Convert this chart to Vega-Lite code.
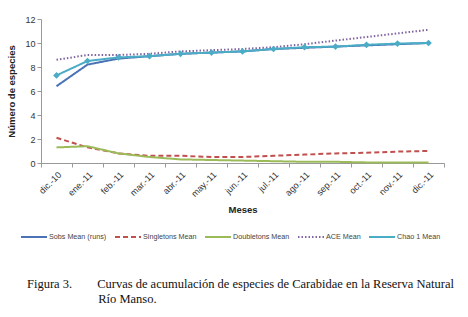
{
  "$schema": "https://vega.github.io/schema/vega-lite/v6.json",
  "width": 403,
  "height": 144,
  "autosize": {"type": "none"},
  "padding": {"left": 41, "top": 19, "right": 24, "bottom": 154},
  "background": "white",
  "config": {
    "view": {"stroke": null},
    "font": "Liberation Sans",
    "axis": {"labelFont": "Liberation Sans", "titleFont": "Liberation Sans", "labelColor": "#333", "titleColor": "#222", "domainColor": "#999", "tickColor": "#999", "grid": false},
    "legend": {"title": null, "orient": "none", "legendX": -21, "legendY": 204, "direction": "horizontal", "columns": 5, "symbolType": "stroke", "symbolSize": 676, "labelFontSize": 7.2, "labelColor": "#444", "columnPadding": 4, "labelOffset": 1, "labelFont": "Liberation Sans"}
  },
  "title": {
    "text": ["Figura 3.\u2003\u2003Curvas de acumulación de especies de Carabidae en la Reserva Natural", "\u200b\u2003\u2003\u2003\u2003\u2003\u2002\u2009Río Manso."],
    "orient": "bottom",
    "anchor": "start",
    "frame": "group",
    "font": "Liberation Serif",
    "fontSize": 12.5,
    "fontWeight": "normal",
    "color": "#111",
    "offset": 37,
    "dx": -14,
    "lineHeight": 15
  },
  "datasets": {
    "d": [
      {"mes": "dic.-10", "serie": "Sobs Mean (runs)", "valor": 6.4},
      {"mes": "ene.-11", "serie": "Sobs Mean (runs)", "valor": 8.2},
      {"mes": "feb.-11", "serie": "Sobs Mean (runs)", "valor": 8.7},
      {"mes": "mar.-11", "serie": "Sobs Mean (runs)", "valor": 8.9},
      {"mes": "abr.-11", "serie": "Sobs Mean (runs)", "valor": 9.1},
      {"mes": "may.-11", "serie": "Sobs Mean (runs)", "valor": 9.2},
      {"mes": "jun.-11", "serie": "Sobs Mean (runs)", "valor": 9.3},
      {"mes": "jul.-11", "serie": "Sobs Mean (runs)", "valor": 9.5},
      {"mes": "ago.-11", "serie": "Sobs Mean (runs)", "valor": 9.6},
      {"mes": "sep.-11", "serie": "Sobs Mean (runs)", "valor": 9.7},
      {"mes": "oct.-11", "serie": "Sobs Mean (runs)", "valor": 9.8},
      {"mes": "nov.-11", "serie": "Sobs Mean (runs)", "valor": 9.9},
      {"mes": "dic.-11", "serie": "Sobs Mean (runs)", "valor": 10.0},
      {"mes": "dic.-10", "serie": "Singletons Mean", "valor": 2.1},
      {"mes": "ene.-11", "serie": "Singletons Mean", "valor": 1.3},
      {"mes": "feb.-11", "serie": "Singletons Mean", "valor": 0.8},
      {"mes": "mar.-11", "serie": "Singletons Mean", "valor": 0.6},
      {"mes": "abr.-11", "serie": "Singletons Mean", "valor": 0.6},
      {"mes": "may.-11", "serie": "Singletons Mean", "valor": 0.5},
      {"mes": "jun.-11", "serie": "Singletons Mean", "valor": 0.5},
      {"mes": "jul.-11", "serie": "Singletons Mean", "valor": 0.6},
      {"mes": "ago.-11", "serie": "Singletons Mean", "valor": 0.7},
      {"mes": "sep.-11", "serie": "Singletons Mean", "valor": 0.8},
      {"mes": "oct.-11", "serie": "Singletons Mean", "valor": 0.85},
      {"mes": "nov.-11", "serie": "Singletons Mean", "valor": 0.95},
      {"mes": "dic.-11", "serie": "Singletons Mean", "valor": 1.0},
      {"mes": "dic.-10", "serie": "Doubletons Mean", "valor": 1.3},
      {"mes": "ene.-11", "serie": "Doubletons Mean", "valor": 1.4},
      {"mes": "feb.-11", "serie": "Doubletons Mean", "valor": 0.8},
      {"mes": "mar.-11", "serie": "Doubletons Mean", "valor": 0.5},
      {"mes": "abr.-11", "serie": "Doubletons Mean", "valor": 0.3},
      {"mes": "may.-11", "serie": "Doubletons Mean", "valor": 0.25},
      {"mes": "jun.-11", "serie": "Doubletons Mean", "valor": 0.2},
      {"mes": "jul.-11", "serie": "Doubletons Mean", "valor": 0.15},
      {"mes": "ago.-11", "serie": "Doubletons Mean", "valor": 0.1},
      {"mes": "sep.-11", "serie": "Doubletons Mean", "valor": 0.1},
      {"mes": "oct.-11", "serie": "Doubletons Mean", "valor": 0.05},
      {"mes": "nov.-11", "serie": "Doubletons Mean", "valor": 0.05},
      {"mes": "dic.-11", "serie": "Doubletons Mean", "valor": 0.05},
      {"mes": "dic.-10", "serie": "ACE Mean", "valor": 8.6},
      {"mes": "ene.-11", "serie": "ACE Mean", "valor": 9.0},
      {"mes": "feb.-11", "serie": "ACE Mean", "valor": 9.0},
      {"mes": "mar.-11", "serie": "ACE Mean", "valor": 9.1},
      {"mes": "abr.-11", "serie": "ACE Mean", "valor": 9.3},
      {"mes": "may.-11", "serie": "ACE Mean", "valor": 9.4},
      {"mes": "jun.-11", "serie": "ACE Mean", "valor": 9.5},
      {"mes": "jul.-11", "serie": "ACE Mean", "valor": 9.65},
      {"mes": "ago.-11", "serie": "ACE Mean", "valor": 9.9},
      {"mes": "sep.-11", "serie": "ACE Mean", "valor": 10.2},
      {"mes": "oct.-11", "serie": "ACE Mean", "valor": 10.5},
      {"mes": "nov.-11", "serie": "ACE Mean", "valor": 10.8},
      {"mes": "dic.-11", "serie": "ACE Mean", "valor": 11.1},
      {"mes": "dic.-10", "serie": "Chao 1 Mean", "valor": 7.3},
      {"mes": "ene.-11", "serie": "Chao 1 Mean", "valor": 8.5},
      {"mes": "feb.-11", "serie": "Chao 1 Mean", "valor": 8.8},
      {"mes": "mar.-11", "serie": "Chao 1 Mean", "valor": 8.9},
      {"mes": "abr.-11", "serie": "Chao 1 Mean", "valor": 9.1},
      {"mes": "may.-11", "serie": "Chao 1 Mean", "valor": 9.2},
      {"mes": "jun.-11", "serie": "Chao 1 Mean", "valor": 9.3},
      {"mes": "jul.-11", "serie": "Chao 1 Mean", "valor": 9.5},
      {"mes": "ago.-11", "serie": "Chao 1 Mean", "valor": 9.65},
      {"mes": "sep.-11", "serie": "Chao 1 Mean", "valor": 9.7},
      {"mes": "oct.-11", "serie": "Chao 1 Mean", "valor": 9.85},
      {"mes": "nov.-11", "serie": "Chao 1 Mean", "valor": 9.95},
      {"mes": "dic.-11", "serie": "Chao 1 Mean", "valor": 10.0}
    ]
  },
  "data": {"name": "d"},
  "encoding": {
    "x": {
      "field": "mes", "type": "nominal", "sort": null, "bandPosition": 0.5,
      "scale": {"type": "band", "paddingInner": 0, "paddingOuter": 0},
      "axis": {"title": "Meses", "labelAngle": -45, "labelFontSize": 9, "titleFontSize": 9.5, "titleFontWeight": "bold", "tickBand": "extent", "tickSize": 4, "titlePadding": 6, "labelPadding": 3}
    },
    "y": {
      "field": "valor", "type": "quantitative",
      "scale": {"domain": [0, 12], "nice": false},
      "axis": {"title": "Número de especies", "values": [0, 2, 4, 6, 8, 10, 12], "labelFontSize": 9, "titleFontSize": 9.5, "titleFontWeight": "bold", "tickSize": 4, "titlePadding": 8}
    }
  },
  "layer": [
    {
      "mark": {"type": "line"},
      "encoding": {
        "color": {
          "field": "serie", "type": "nominal",
          "scale": {"domain": ["Sobs Mean (runs)", "Singletons Mean", "Doubletons Mean", "ACE Mean", "Chao 1 Mean"], "range": ["#4A72B5", "#C0504D", "#9BBB59", "#8064A2", "#4BACC6"]}
        },
        "strokeDash": {
          "field": "serie", "type": "nominal",
          "scale": {"domain": ["Sobs Mean (runs)", "Singletons Mean", "Doubletons Mean", "ACE Mean", "Chao 1 Mean"], "range": [[1, 0], [5, 3], [1, 0], [1.5, 2], [1, 0]]}
        },
        "strokeWidth": {
          "field": "serie", "type": "nominal",
          "scale": {"domain": ["Sobs Mean (runs)", "Singletons Mean", "Doubletons Mean", "ACE Mean", "Chao 1 Mean"], "range": [2, 2, 2, 1.6, 3]}
        }
      }
    },
    {
      "transform": [{"filter": "datum.serie === 'Chao 1 Mean'"}],
      "mark": {"type": "point", "shape": "diamond", "filled": true, "size": 45, "color": "#4BACC6", "opacity": 1}
    }
  ]
}
